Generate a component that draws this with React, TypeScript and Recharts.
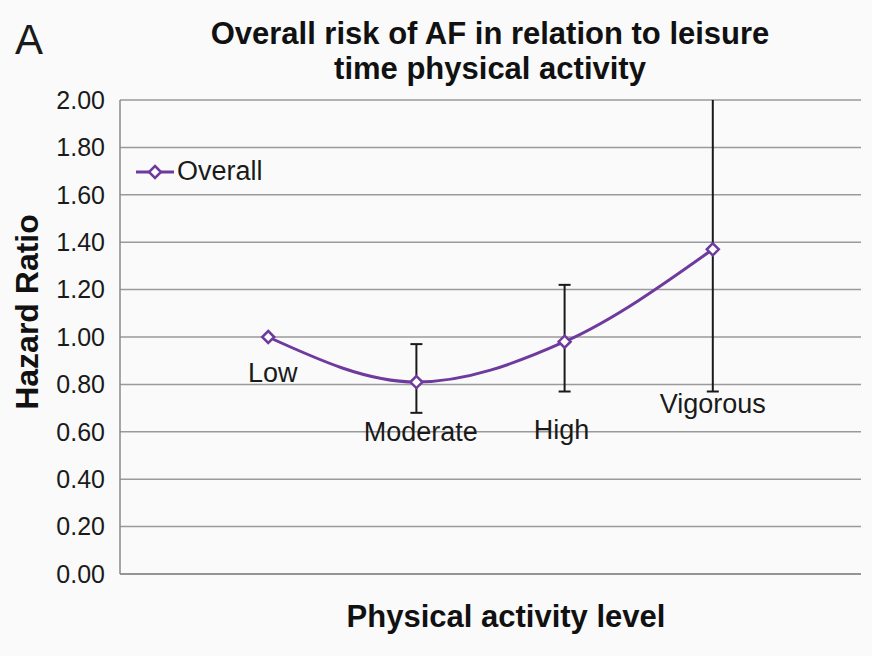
import React from "react"
import {
  ComposedChart,
  Line,
  Scatter,
  XAxis,
  YAxis,
  CartesianGrid,
  ErrorBar,
  Legend
} from "recharts"

const levels = ["Low", "Moderate", "High", "Vigorous"]
const positions = [1, 2, 3, 4]
const hazard = [1.0, 0.81, 0.98, 1.37]
const lowerCI = [null, 0.68, 0.77, 0.77]
// Vigorous upper bound runs off the top of the axis, so it stops at 2.00 with no cap
const upperCI = [null, 0.97, 1.22, 2.0]
const upperCapped = [true, true, true, false]
// where each category name sits (x in category units, y = baseline in HR units)
const labelX = [1.03, 2.03, 2.98, 4.0]
const labelY = [0.81, 0.56, 0.57, 0.68]
const yTicks = [0, 0.2, 0.4, 0.6, 0.8, 1.0, 1.2, 1.4, 1.6, 1.8, 2.0]

const PURPLE = "#6f3a9e"
const FONT = "'Liberation Sans', Arial, sans-serif"

const data = levels.map((name, i) => {
  const lo = lowerCI[i]
  const hi = upperCI[i]
  if (lo == null || hi == null) return { name, pos: positions[i], hr: hazard[i], err: null, errOpen: null }
  const minus = hazard[i] - lo
  const plus = hi - hazard[i]
  return {
    name,
    pos: positions[i],
    hr: hazard[i],
    err: upperCapped[i] ? [minus, plus] : [minus, 0],
    errOpen: upperCapped[i] ? null : [0, plus]
  }
})

const labelData = levels.map((name, i) => ({
  name,
  pos: labelX[i],
  ly: labelY[i]
}))

function Diamond(props: any) {
  const { cx, cy, index } = props
  if (cx == null || cy == null) return null
  const r = 6
  return (
    <polygon
      key={`d-${index}`}
      points={`${cx},${cy - r} ${cx + r},${cy} ${cx},${cy + r} ${cx - r},${cy}`}
      fill="#fff"
      stroke={PURPLE}
      strokeWidth={2.5}
    />
  )
}

function CategoryText(props: any) {
  const { cx, cy, payload } = props
  return (
    <text
      x={cx}
      y={cy}
      textAnchor="middle"
      fontFamily={FONT}
      fontSize={27}
      fill="#1a1a1a"
    >
      {payload.name}
    </text>
  )
}

function LegendBox() {
  return (
    <div style={{ display: "flex", alignItems: "center", fontFamily: FONT }}>
      <svg width={40} height={20}>
        <line x1={0} y1={10} x2={38} y2={10} stroke={PURPLE} strokeWidth={3} />
        <polygon points="19,4 25,10 19,16 13,10" fill="#fff" stroke={PURPLE} strokeWidth={2.5} />
      </svg>
      <span style={{ fontSize: 27, color: "#1a1a1a", marginLeft: 1 }}>Overall</span>
    </div>
  )
}

export default function App() {
  return (
    <div
      style={{
        position: "absolute",
        left: 0,
        top: 0,
        width: 872,
        height: 656,
        background: "#fafafa"
      }}
    >
      <ComposedChart
        width={872}
        height={656}
        data={data}
        margin={{ top: 100, right: 11, bottom: 0, left: 0 }}
      >
        <CartesianGrid vertical={false} stroke="#9a9a9a" strokeWidth={1.5} />
        <XAxis
          type="number"
          dataKey="pos"
          domain={[0, 5]}
          tick={false}
          tickLine={false}
          axisLine={{ stroke: "#8a8a8a", strokeWidth: 1.5 }}
          height={82}
        />
        <YAxis
          type="number"
          domain={[0, 2]}
          ticks={yTicks}
          width={120}
          tickSize={0}
          tickMargin={15}
          tickFormatter={(v: number) => v.toFixed(2)}
          tick={{ fontSize: 25, fill: "#1a1a1a", fontFamily: FONT }}
          axisLine={{ stroke: "#8a8a8a", strokeWidth: 1.5 }}
        />
        <Legend
          layout="vertical"
          align="center"
          verticalAlign="middle"
          wrapperStyle={{ left: 136, top: 156, width: "auto" }}
          content={() => <LegendBox />}
        />
        <Line
          type="monotone"
          dataKey="hr"
          name="Overall"
          stroke={PURPLE}
          strokeWidth={3}
          dot={<Diamond />}
          activeDot={false}
          isAnimationActive={false}
        >
          <ErrorBar dataKey="err" direction="y" width={6} stroke="#1a1a1a" strokeWidth={2} />
          <ErrorBar dataKey="errOpen" direction="y" width={0} stroke="#1a1a1a" strokeWidth={2} />
        </Line>
        <Scatter
          data={labelData}
          dataKey="ly"
          shape={<CategoryText />}
          legendType="none"
          isAnimationActive={false}
        />
        <text x={15} y={54} fontFamily={FONT} fontSize={42} fill="#1a1a1a">
          A
        </text>
        <text
          textAnchor="middle"
          fontFamily={FONT}
          fontSize={31}
          fontWeight="bold"
          fill="#111"
        >
          <tspan x={490} y={44}>Overall risk of AF in relation to leisure</tspan>
          <tspan x={490} y={79}>time physical activity</tspan>
        </text>
        <text
          x={506}
          y={627}
          textAnchor="middle"
          fontFamily={FONT}
          fontSize={31}
          fontWeight="bold"
          fill="#111"
        >
          Physical activity level
        </text>
        <text
          x={38}
          y={312}
          transform="rotate(-90, 38, 312)"
          textAnchor="middle"
          fontFamily={FONT}
          fontSize={32}
          fontWeight="bold"
          fill="#111"
        >
          Hazard Ratio
        </text>
      </ComposedChart>
    </div>
  )
}
